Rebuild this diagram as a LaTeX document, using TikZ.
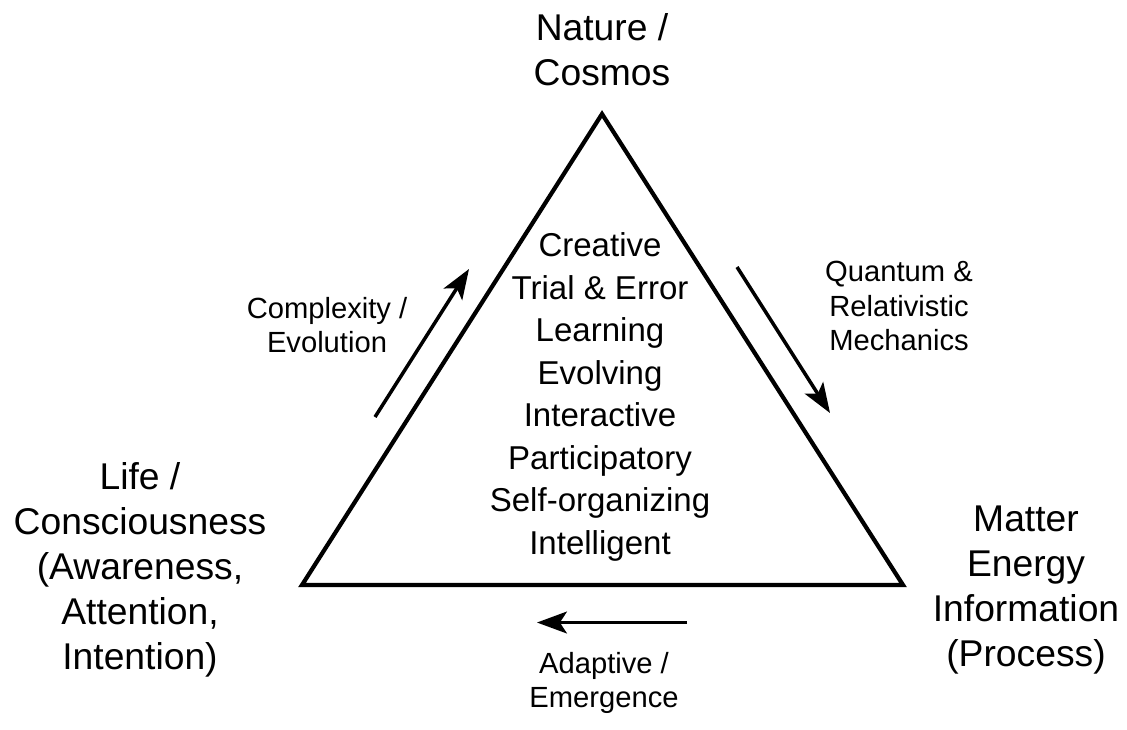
\documentclass[tikz,border=0pt]{standalone}
\usepackage{fontspec}
\setmainfont{Liberation Sans}
\usepackage{tikz}
\usetikzlibrary{arrows.meta}
\tikzstyle{testogrande} = [align=center,inner sep=0pt,font=\fontsize{10.6}{12.8}\selectfont]
\tikzstyle{testomedio} = [align=center,inner sep=0pt,font=\fontsize{9.4}{12.1}\selectfont]
\tikzstyle{testopiccolo} = [align=center,inner sep=0pt,font=\fontsize{8.3}{9.8}\selectfont]
\tikzstyle{lato} = [line width=1.2pt,line join=miter]
\tikzstyle{freccia} = [line width=1.0pt,-{Stealth[length=8.5pt,width=6.2pt,inset=2pt]}]

\begin{document}
\begin{tikzpicture}
\useasboundingbox (0,0) rectangle (11.27,7.29);

% 1 px = 0.01cm

\coordinate (top) at (6.02,6.15);
\coordinate (bl) at (3.02,1.44);
\coordinate (br) at (9.03,1.44);

\node (nature)  [testogrande,xshift=6.02cm,yshift=6.79cm] {Nature /\\Cosmos};
\node (life)    [testogrande,xshift=1.40cm,yshift=1.59cm] {Life /\\Consciousness\\(Awareness,\\Attention,\\Intention)};
\node (matter)  [testogrande,xshift=10.26cm,yshift=1.39cm] {Matter\\Energy\\Information\\(Process)};

\node (qualita) [testomedio,xshift=6.00cm,yshift=3.32cm] {Creative\\Trial \& Error\\Learning\\Evolving\\Interactive\\Participatory\\Self-organizing\\Intelligent};

\node (compl)   [testopiccolo,xshift=3.27cm,yshift=4.04cm] {Complexity /\\Evolution};
\node (quant)   [testopiccolo,xshift=8.99cm,yshift=4.23cm] {Quantum \&\\Relativistic\\Mechanics};
\node (adapt)   [testopiccolo,xshift=6.04cm,yshift=0.46cm] {Adaptive /\\Emergence};

\coordinate (c1s) at (3.75,3.12);
\coordinate (c1e) at (4.69,4.60);
\coordinate (q1s) at (7.37,4.62);
\coordinate (q1e) at (8.30,3.16);
\coordinate (a1s) at (6.87,1.065);
\coordinate (a1e) at (5.37,1.065);

\draw[lato] (top) -- (bl) -- (br) -- cycle;

\draw[freccia] (c1s) -- (c1e);
\draw[freccia] (q1s) -- (q1e);
\draw[freccia] (a1s) -- (a1e);

\end{tikzpicture}
\end{document}
